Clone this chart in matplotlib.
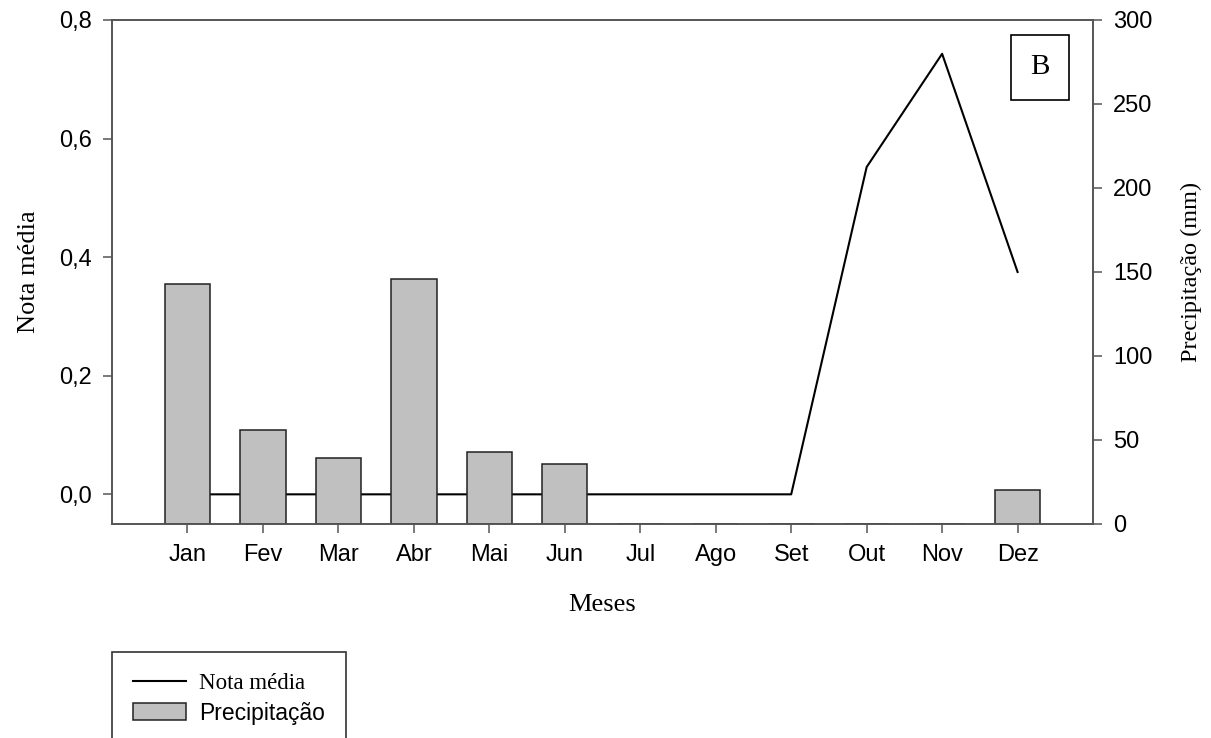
import matplotlib.pyplot as plt
import numpy as np
from matplotlib.ticker import FuncFormatter

meses = ['Jan', 'Fev', 'Mar', 'Abr', 'Mai', 'Jun', 'Jul', 'Ago', 'Set', 'Out', 'Nov', 'Dez']
nota_media = [0, 0, 0, 0, 0, 0, 0, 0, 0, 0.552, 0.743, 0.375]
precipitacao = [143, 56, 39, 146, 43, 36, 0, 0, 0, 0, 0, 20]

serif = 'Liberation Serif'
sans = 'Liberation Sans'
cor_eixo = '#555555'

fig = plt.figure(figsize=(12.11, 7.38), dpi=100)
ax = fig.add_axes([0.0925, 0.29, 0.8101, 0.6829])
ax2 = ax.twinx()

x = np.arange(1, len(meses) + 1)

# linha da nota media (eixo esquerdo), barras por cima (eixo direito)
linha, = ax.plot(x, nota_media, color='black', lw=1.5, label='Nota média')
barras = ax2.bar(x, precipitacao, width=0.6, color='#c0c0c0',
                 edgecolor='#222222', linewidth=1.1, label='Precipitação')

ax.set_xlim(0, 13)
ax.set_ylim(-0.05, 0.8)
ax.set_yticks([0, 0.2, 0.4, 0.6, 0.8])
ax.yaxis.set_major_formatter(FuncFormatter(lambda v, p: f'{v:.1f}'.replace('.', ',')))
ax.set_xticks(x)
ax.set_xticklabels(meses)

ax2.set_ylim(0, 300)
ax2.set_yticks(np.arange(0, 301, 50))

for a in (ax, ax2):
    for s in a.spines.values():
        s.set_color(cor_eixo)
        s.set_linewidth(1.2)
    a.tick_params(direction='out', length=6.5, width=1.1, color=cor_eixo,
                  labelsize=17, pad=8)
    for t in a.get_xticklabels() + a.get_yticklabels():
        t.set_fontfamily(sans)

ax.set_xlabel('Meses', fontfamily=serif, fontsize=19, labelpad=20)
ax.set_ylabel('Nota média', fontfamily=serif, fontsize=19, labelpad=14)
ax2.set_ylabel('Precipitação (mm)', fontfamily=serif, fontsize=17.5, labelpad=20)

ax.text(0.9458, 0.906, 'B', transform=ax.transAxes, ha='center', va='center',
        fontfamily=serif, fontsize=21,
        bbox=dict(boxstyle='square,pad=0.66', fc='white', ec='black', lw=1.2))

leg = fig.legend([linha, barras], ['Nota média', 'Precipitação'],
                 loc='upper left', bbox_to_anchor=(112 / 1211, 1 - 652 / 738),
                 borderaxespad=0, fontsize=16.5, frameon=True, fancybox=False,
                 edgecolor='black', handlelength=2.35, handleheight=0.75,
                 handletextpad=0.55, borderpad=0.9, labelspacing=0.34)
leg.get_frame().set_linewidth(1.2)
leg.get_texts()[0].set_fontfamily(serif)
leg.get_texts()[1].set_fontfamily(sans)

fig.savefig('out.png', dpi=100)
